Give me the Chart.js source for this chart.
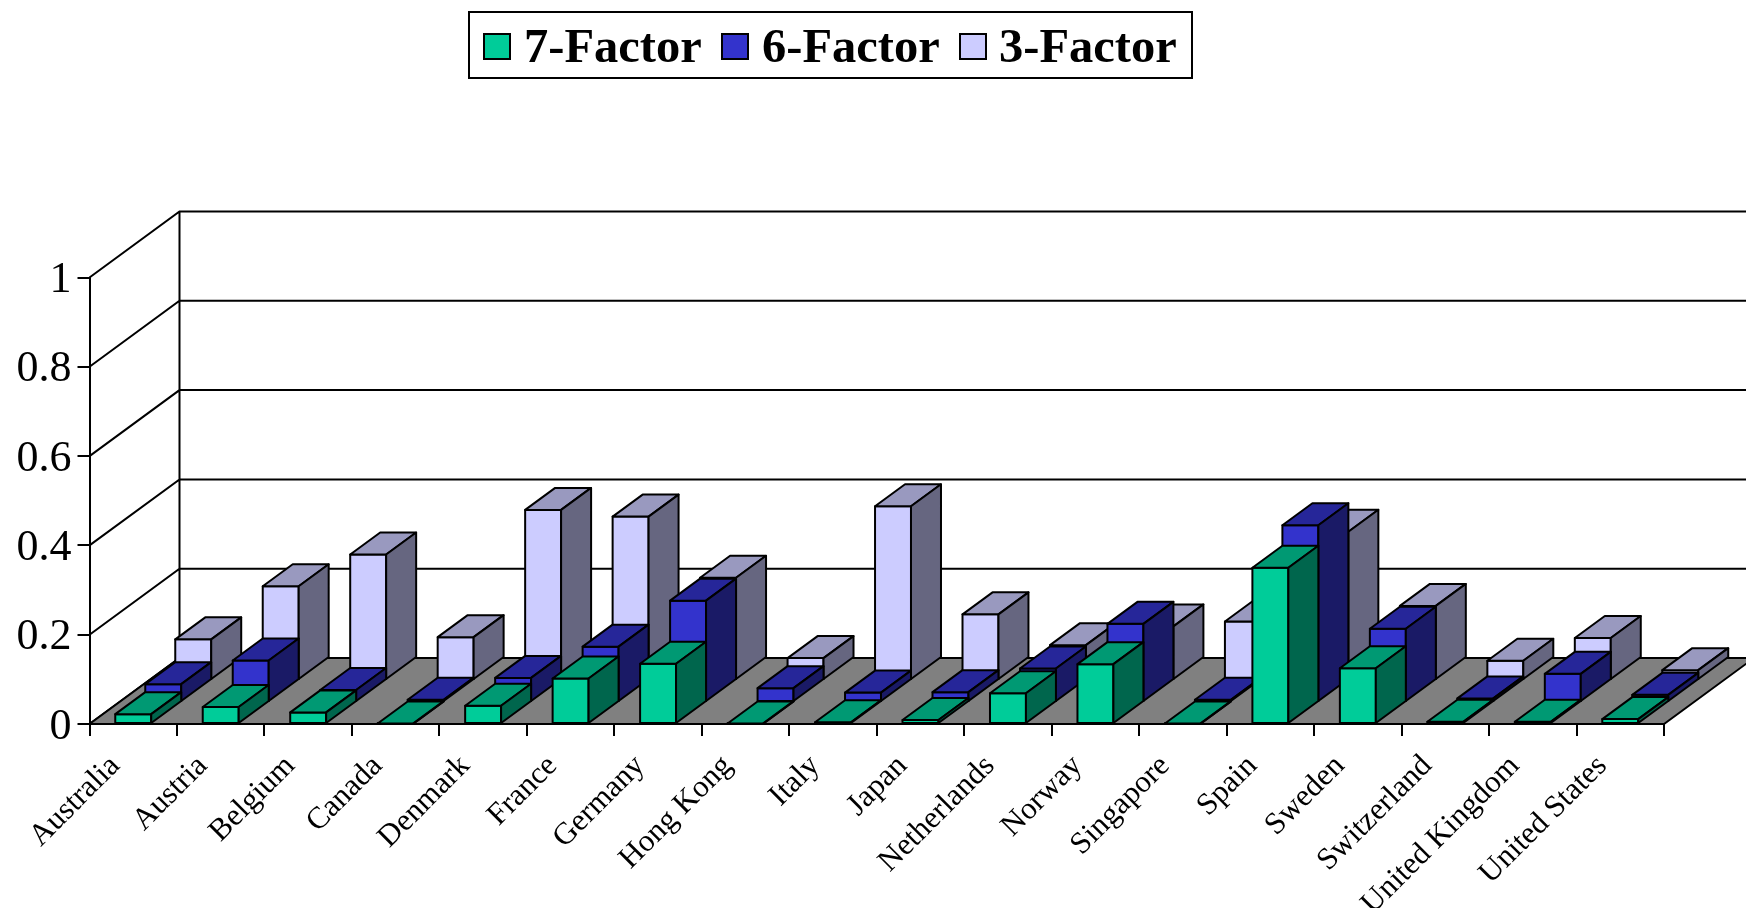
<!DOCTYPE html>
<html lang="en">
<head>
  <meta charset="UTF-8">
  <title>Factor model comparison by country</title>
  <script src="https://cdn.jsdelivr.net/npm/chart.js"></script>
  <style>
    body {
      margin: 0;
      background: #fff;
      font-family: "Liberation Serif", serif;
    }
    #wrap {
      position: relative;
      width: 1746px;
      height: 908px;
      overflow: hidden;
    }
    canvas {
      display: block;
    }
    #legend {
      position: absolute;
      left: 468px;
      top: 11px;
      width: 725px;
      height: 68px;
      box-sizing: border-box;
      border: 2px solid #000;
      background: #fff;
      font-weight: bold;
      font-size: 48.5px;
      line-height: 65px;
      white-space: nowrap;
    }
    #legend i {
      position: absolute;
      top: 20px;
      width: 28px;
      height: 27px;
      box-sizing: border-box;
      border: 2px solid #000;
    }
    #legend span {
      position: absolute;
      top: 0;
    }
  </style>
</head>
<body>
  <div id="wrap">
    <canvas id="chart" width="1746" height="908"></canvas>
    <div id="legend"></div>
  </div>

  <script>
    const countries = ['Australia', 'Austria', 'Belgium', 'Canada', 'Denmark', 'France', 'Germany', 'Hong Kong', 'Italy',
      'Japan', 'Netherlands', 'Norway', 'Singapore', 'Spain', 'Sweden', 'Switzerland', 'United Kingdom', 'United States'];
    const seriesNames = ['7-Factor', '6-Factor', '3-Factor'];
    const yTickLabels = ['0', '0.2', '0.4', '0.6', '0.8', '1'];

    const sevenFactor = [0.022, 0.038, 0.026, 0.001, 0.041, 0.102, 0.135, 0.001, 0.004, 0.009, 0.069, 0.134, 0.001, 0.350, 0.125, 0.005, 0.005, 0.011];
    const sixFactor = [0.040, 0.093, 0.027, 0.005, 0.054, 0.124, 0.227, 0.031, 0.021, 0.022, 0.075, 0.175, 0.005, 0.396, 0.164, 0.008, 0.063, 0.016];
    const threeFactor = [0.091, 0.210, 0.281, 0.096, 0.381, 0.366, 0.229, 0.049, 0.389, 0.147, 0.078, 0.120, 0.131, 0.332, 0.166, 0.043, 0.094, 0.022];

    const seriesColors = [[0, 204, 153], [51, 51, 204], [204, 204, 255]];

    // oblique projection: screen shift for one row of bars going back
    const ROW_DX = 30;
    const ROW_DY = -22;
    const ROWS = 3;
    const LINE = 2;

    function shade(rgb, f) {
      return `rgb(${rgb.map(c => Math.round(c * f)).join(',')})`;
    }

    function poly(ctx, pts, fill) {
      ctx.beginPath();
      pts.forEach((p, i) => i ? ctx.lineTo(p[0], p[1]) : ctx.moveTo(p[0], p[1]));
      ctx.closePath();
      if (fill) {
        ctx.fillStyle = fill;
        ctx.fill();
      }
      ctx.stroke();
    }

    // back wall, side wall gridlines and the grey floor
    const walls = {
      id: 'walls',
      beforeDatasetsDraw(chart) {
        const { ctx, chartArea, scales } = chart;
        const dx = ROW_DX * ROWS;
        const dy = ROW_DY * ROWS;
        const base = scales.y.getPixelForValue(0);
        ctx.save();
        ctx.strokeStyle = '#000';
        ctx.lineWidth = LINE;
        ctx.beginPath();
        scales.y.ticks.forEach(t => {
          const y = scales.y.getPixelForValue(t.value);
          ctx.moveTo(chartArea.left, y);
          ctx.lineTo(chartArea.left + dx, y + dy);
          ctx.lineTo(chartArea.right + dx, y + dy);
        });
        ctx.moveTo(chartArea.left + dx, chartArea.top + dy);
        ctx.lineTo(chartArea.left + dx, base + dy);
        ctx.stroke();
        poly(ctx, [
          [chartArea.left, base],
          [chartArea.right, base],
          [chartArea.right + dx, base + dy],
          [chartArea.left + dx, base + dy]
        ], '#808080');
        ctx.restore();
      }
    };

    // each dataset sits in its own row; front, top and side faces get the usual darker shades
    const bars3d = {
      id: 'bars3d',
      beforeDatasetDraw(chart, args) {
        const { ctx } = chart;
        const row = args.index;
        const rgb = seriesColors[row];
        const ox = ROW_DX * row;
        const oy = ROW_DY * row;
        ctx.save();
        ctx.strokeStyle = '#000';
        ctx.lineWidth = LINE;
        ctx.lineJoin = 'round';
        args.meta.data.forEach(bar => {
          const l = bar.x - bar.width / 2 + ox;
          const r = l + bar.width;
          const t = bar.y + oy;
          const b = bar.base + oy;
          poly(ctx, [[l, b], [r, b], [r, t], [l, t]], shade(rgb, 1));
          poly(ctx, [[l, t], [r, t], [r + ROW_DX, t + ROW_DY], [l + ROW_DX, t + ROW_DY]], shade(rgb, 0.75));
          poly(ctx, [[r, b], [r + ROW_DX, b + ROW_DY], [r + ROW_DX, t + ROW_DY], [r, t]], shade(rgb, 0.5));
        });
        ctx.restore();
        return false;
      }
    };

    new Chart(document.getElementById('chart'), {
      type: 'bar',
      data: {
        labels: countries,
        datasets: [
          { label: seriesNames[0], data: sevenFactor, backgroundColor: shade(seriesColors[0], 1) },
          { label: seriesNames[1], data: sixFactor, backgroundColor: shade(seriesColors[1], 1) },
          { label: seriesNames[2], data: threeFactor, backgroundColor: shade(seriesColors[2], 1) }
        ]
      },
      plugins: [walls, bars3d],
      options: {
        responsive: false,
        animation: false,
        layout: { padding: { top: 277.5, right: 82 } },
        plugins: {
          legend: { display: false },
          tooltip: { enabled: false }
        },
        scales: {
          x: {
            afterFit: s => { s.height = 184; },
            border: { color: '#000', width: LINE },
            grid: { drawOnChartArea: false, color: '#000', lineWidth: LINE, tickLength: 12 },
            ticks: {
              autoSkip: false,
              minRotation: 45,
              maxRotation: 45,
              padding: 12,
              labelOffset: -18,
              color: '#000',
              font: { family: 'Liberation Serif', size: 31 }
            }
          },
          y: {
            min: 0,
            max: 1,
            afterFit: s => { s.width = 89.5; },
            border: { color: '#000', width: LINE },
            grid: { drawOnChartArea: false, color: '#000', lineWidth: LINE, tickLength: 12 },
            ticks: {
              stepSize: 0.2,
              padding: 6,
              labelOffset: 3,
              color: '#000',
              font: { family: 'Liberation Serif', size: 44 },
              callback: (v, i) => yTickLabels[i]
            }
          }
        },
        datasets: {
          bar: { grouped: false, barPercentage: 0.411, categoryPercentage: 1 }
        }
      }
    });

    // legend box above the plot
    const legend = document.getElementById('legend');
    const swatchLeft = [13, 251, 489];
    const textLeft = [54, 292, 529];
    seriesNames.forEach((name, i) => {
      const swatch = document.createElement('i');
      swatch.style.left = swatchLeft[i] + 'px';
      swatch.style.background = shade(seriesColors[i], 1);
      const text = document.createElement('span');
      text.style.left = textLeft[i] + 'px';
      text.textContent = name;
      legend.append(swatch, text);
    });
  </script>
</body>
</html>
